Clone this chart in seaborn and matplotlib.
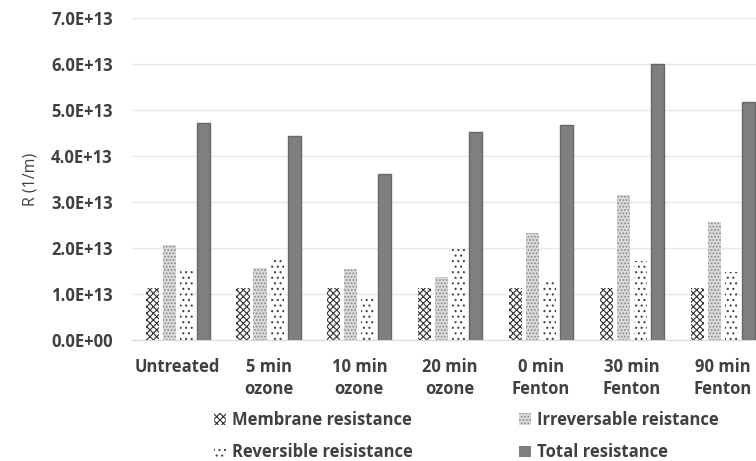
import pandas as pd
import numpy as np
import matplotlib
matplotlib.use('Agg')
import matplotlib.pyplot as plt
import seaborn as sns
from matplotlib.ticker import FuncFormatter
from matplotlib.patches import Patch


categories = ['Untreated', '5 min\nozone', '10 min\nozone', '20 min\nozone',
              '0 min\nFenton', '30 min\nFenton', '90 min\nFenton']
series = ['Membrane resistance', 'Irreversable reistance',
          'Reversible reisistance', 'Total resistance']

membrane = [1.13e13, 1.13e13, 1.13e13, 1.13e13, 1.13e13, 1.13e13, 1.13e13]
irreversible = [2.07e13, 1.57e13, 1.54e13, 1.38e13, 2.32e13, 3.15e13, 2.57e13]
reversible = [1.55e13, 1.74e13, 0.94e13, 1.98e13, 1.26e13, 1.72e13, 1.48e13]
total = [4.72e13, 4.43e13, 3.60e13, 4.53e13, 4.67e13, 6.00e13, 5.17e13]

df = pd.DataFrame({'cat': categories, series[0]: membrane, series[1]: irreversible,
                   series[2]: reversible, series[3]: total})
melt_df = pd.melt(df, id_vars=['cat'])

sns.set_style("white")
plt.rcParams['font.family'] = ['Open Sans', 'DejaVu Sans']
plt.rcParams['hatch.linewidth'] = 0.8

fig = plt.figure(figsize=(7.56, 4.61), dpi=100)
ax = fig.add_axes([0.175, 0.262, 0.841, 0.699])

sns.barplot(x='cat', y='value', hue='variable', data=melt_df, ax=ax,
            width=0.75, gap=0.23, legend=False, errorbar=None)

styles = [
    dict(facecolor='white', edgecolor='#333333', hatch='xxxxx', lw=0),
    dict(facecolor='#d9d9d9', edgecolor='#8a8a8a', hatch='.....', lw=0),
    dict(facecolor='white', edgecolor='#444444', hatch='...', lw=0),
    dict(facecolor='#7f7f7f', edgecolor='#666666', hatch=None, lw=1.0),
]
for cont, st in zip(ax.containers, styles):
    for bar in cont:
        bar.set_facecolor(st['facecolor'])
        bar.set_edgecolor(st['edgecolor'])
        bar.set_hatch(st['hatch'])
        bar.set_linewidth(st['lw'])

ax.set_ylim(0, 7e13)
ax.set_yticks(np.arange(0, 7.01e13, 1e13))
ax.yaxis.set_major_formatter(FuncFormatter(lambda v, p: '0.0E+00' if v == 0 else f'{v/1e13:.1f}E+13'))
ax.grid(True, axis='y', color='#e8e8e8', linewidth=1)
ax.set_axisbelow(True)
for s in ['top', 'right', 'left']:
    ax.spines[s].set_visible(False)
ax.spines['bottom'].set_color('#d9d9d9')
ax.tick_params(axis='both', length=0, labelcolor='#404040')
ax.tick_params(axis='y', pad=14, labelsize=12)
ax.tick_params(axis='x', pad=13, labelsize=12)
for lab in ax.get_xticklabels() + ax.get_yticklabels():
    lab.set_fontweight('bold')
for lab in ax.get_xticklabels():
    lab.set_linespacing(1.25)
ax.set_xlabel('')
ax.set_ylabel('R (1/m)', fontsize=11.5, color='#404040', labelpad=9)

handles = [Patch(facecolor=st['facecolor'], edgecolor=st['edgecolor'], hatch=st['hatch'],
                 linewidth=0) for st in styles]
order = [0, 2, 1, 3]
leg = fig.legend([handles[i] for i in order], [series[i] for i in order], ncol=2,
                 loc='center', bbox_to_anchor=(0.617, 0.054), frameon=False,
                 fontsize=12, handlelength=0.7, handleheight=0.7, handletextpad=0.35,
                 columnspacing=6.4, labelspacing=0.85)
for t in leg.get_texts():
    t.set_color('#404040')
    t.set_fontweight('bold')

plt.savefig('out.png', dpi=100)
